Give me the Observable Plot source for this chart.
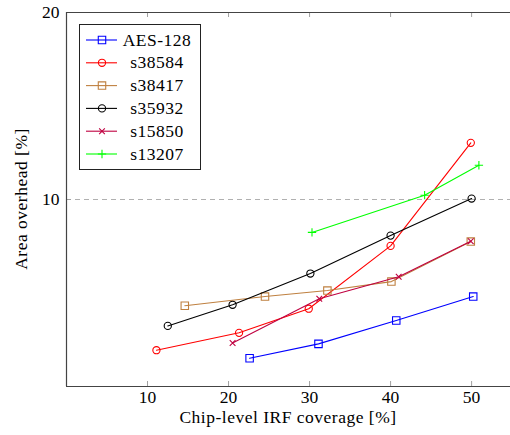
<!DOCTYPE html>
<html><head><meta charset="utf-8">
<script src="https://cdn.jsdelivr.net/npm/d3@7"></script>
<script src="https://cdn.jsdelivr.net/npm/@observablehq/plot@0.6"></script>
<style>body{margin:0;background:#fff}svg{display:block}</style>
</head><body><div id="chart"></div>
<script>
const seriesNames = ["AES-128","s38584","s38417","s35932","s15850","s13207"];
const seriesColors = ["#0000ff","#ff0000","#bf8040","#000000","#bf0040","#00ff00"];
const seriesSymbols = ["square","circle","square","circle","times","plus"];
const symbolR = {square:4.2, circle:3.6, times:2.7, plus:2.8};

const aesX = [22.6,31.1,40.7,50.2];       const aesY = [1.51,2.28,3.53,4.81];
const s38584X = [11.1,21.3,29.9,40.0,49.9]; const s38584Y = [1.94,2.87,4.16,7.52,13.03];
const s38417X = [14.6,24.5,32.2,40.1,49.9]; const s38417Y = [4.32,4.81,5.13,5.61,7.75];
const s35932X = [12.5,20.5,30.1,40.0,50.0]; const s35932Y = [3.24,4.37,6.04,8.07,10.05];
const s15850X = [20.5,31.2,41.0,49.9];      const s15850Y = [2.33,4.69,5.87,7.77];
const s13207X = [30.3,44.2,50.9];           const s13207Y = [8.24,10.23,11.83];

const xTicks = [10,20,30,40,50];
const yTicks = [10,20];
const xLabel = "Chip-level IRF coverage [%]";
const yLabel = "Area overhead [%]";

const seriesX = [aesX,s38584X,s38417X,s35932X,s15850X,s13207X];
const seriesY = [aesY,s38584Y,s38417Y,s35932Y,s15850Y,s13207Y];
const data = [];
seriesNames.forEach((s,i)=>seriesX[i].forEach((x,j)=>data.push({series:s,x,y:seriesY[i][j]})));

const W=510,H=435,ML=66,MR=0,MT=12,MB=49;
const frameW=W-ML-MR, frameH=H-MT-MB;
const font = "'Liberation Serif', 'Times New Roman', serif";

const marks = [
  Plot.ruleY([10], {stroke:"#b0b0b0", strokeDasharray:"5,4"}),
  Plot.tickX(xTicks, {x:d=>d, insetTop:frameH-5, stroke:"#a0a0a0"}),
  Plot.tickX(xTicks, {x:d=>d, insetBottom:frameH-5, stroke:"#a0a0a0"}),
  Plot.tickY(yTicks, {y:d=>d, insetRight:frameW-5, stroke:"#a0a0a0"}),
  Plot.axisX(xTicks, {tickSize:0, tickPadding:4, label:null, color:"#000"}),
  Plot.axisY(yTicks, {tickSize:0, tickPadding:7, label:null, color:"#000"}),
  Plot.ruleX([0], {stroke:"#444", strokeWidth:1.2}),
  Plot.ruleY([0,20], {stroke:"#444", strokeWidth:1.2})
];
seriesNames.forEach((s,i)=>{
  const d = data.filter(p=>p.series===s);
  marks.push(Plot.line(d, {x:"x", y:"y", stroke:seriesColors[i], strokeWidth:1.1}));
  marks.push(Plot.dot(d, {x:"x", y:"y", stroke:seriesColors[i], symbol:()=>seriesSymbols[i], r:symbolR[seriesSymbols[i]], fill:"none", strokeWidth:1.1}));
});

const svg = Plot.plot({
  width:W, height:H, marginLeft:ML, marginRight:MR, marginTop:MT, marginBottom:MB,
  style:{fontFamily:font, fontSize:"17.5px", background:"#fff", color:"#000", overflow:"visible"},
  x:{domain:[0,54.8]}, y:{domain:[0,20]},
  symbol:{domain:["square","circle","times","plus"], range:["square","circle","times","plus"]},
  marks
});
document.getElementById("chart").appendChild(svg);

const s = d3.select(svg);
s.append("text").attr("x",288).attr("y",423).attr("text-anchor","middle")
  .attr("font-family",font).attr("font-size",17.5).attr("letter-spacing","0.5px").attr("fill","#000").text(xLabel);
s.append("text").attr("transform","translate(26.5,199) rotate(-90)").attr("text-anchor","middle")
  .attr("font-family",font).attr("font-size",17.5).attr("letter-spacing","0.5px").attr("fill","#000").text(yLabel);

const lg = s.append("g");
lg.append("rect").attr("x",79.5).attr("y",24.5).attr("width",121).attr("height",145)
  .attr("fill","#fff").attr("stroke","#222").attr("stroke-width",1);
const symMap = {square:d3.symbolSquare, circle:d3.symbolCircle, times:d3.symbolTimes, plus:d3.symbolPlus};
seriesNames.forEach((name,i)=>{
  const y = 40 + i*22.8;
  lg.append("line").attr("x1",86).attr("x2",117).attr("y1",y).attr("y2",y)
    .attr("stroke",seriesColors[i]).attr("stroke-width",1.1);
  const r = symbolR[seriesSymbols[i]];
  lg.append("path").attr("transform",`translate(102,${y})`)
    .attr("d", d3.symbol(symMap[seriesSymbols[i]], Math.PI*r*r)())
    .attr("fill","none").attr("stroke",seriesColors[i]).attr("stroke-width",1.1);
  lg.append("text").attr("x",157).attr("y",y+5.5).attr("text-anchor","middle")
    .attr("font-family",font).attr("font-size",17.5).attr("letter-spacing","0.5px").attr("fill","#000").text(name);
});
</script></body></html>
